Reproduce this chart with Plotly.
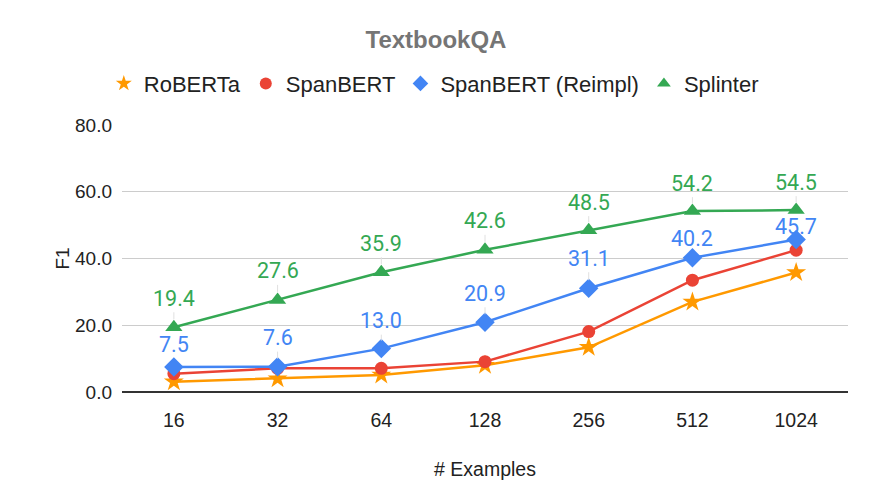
import plotly.graph_objects as go

examples = ["16", "32", "64", "128", "256", "512", "1024"]
roberta = [3.1, 4.0, 5.1, 8.0, 13.4, 27.0, 35.8]
spanbert = [5.5, 7.1, 7.1, 9.1, 18.1, 33.5, 42.5]
spanbert_reimpl = [7.5, 7.6, 13.0, 20.9, 31.1, 40.2, 45.7]
splinter = [19.4, 27.6, 35.9, 42.6, 48.5, 54.2, 54.5]

series = [
    ("RoBERTa", roberta, "#FF9900", "star", 15, False),
    ("SpanBERT", spanbert, "#EA4335", "circle", 13, False),
    ("SpanBERT (Reimpl)", spanbert_reimpl, "#4285F4", "diamond", 15, True),
    ("Splinter", splinter, "#34A853", "triangle-up", 15, True),
]

label_offsets = {
    "SpanBERT (Reimpl)": [-22, -29, -28, -29, -30, -19, -13],
    "Splinter": [-29, -29, -29, -29, -28, -28, -28],
}

fig = go.Figure()
annotations = []
for name, vals, color, sym, size, labeled in series:
    fig.add_trace(go.Scatter(
        x=examples, y=vals, mode="lines+markers", name=name,
        line=dict(color=color, width=2.5),
        marker=dict(symbol=sym, size=size, color=color),
        showlegend=False, hoverinfo="skip",
    ))
    fig.add_trace(go.Scatter(
        x=[None], y=[None], mode="markers", name=name,
        marker=dict(symbol=sym, size=12, color=color),
        showlegend=True,
    ))
    if labeled:
        for i, yv in enumerate(vals):
            annotations.append(dict(
                x=i, y=yv, xref="x", yref="y",
                text=f"{yv:.1f}", showarrow=True, arrowhead=0,
                arrowwidth=1, arrowcolor="#e0e0e0", ax=0,
                ay=label_offsets[name][i], standoff=8,
                font=dict(family="Roboto", size=21.5, color=color),
            ))

fig.update_layout(
    width=872, height=503,
    margin=dict(l=122, r=24, t=125, b=111, autoexpand=False),
    paper_bgcolor="white", plot_bgcolor="white",
    title=dict(text="<b>TextbookQA</b>", x=0.5, xanchor="center",
               y=1 - 40 / 503, yanchor="middle",
               font=dict(family="Liberation Sans", size=24, color="#757575")),
    legend=dict(orientation="h", x=0.4295, xanchor="center", y=1.155,
                yanchor="middle", font=dict(family="Liberation Sans", size=22, color="#222222"),
                itemwidth=30, tracegroupgap=0),
    annotations=annotations,
    font=dict(family="Liberation Sans", color="#222222"),
)
fig.update_xaxes(
    type="category", range=[-0.5, 6.5], showgrid=False, automargin=False,
    showline=False, ticks="", tickfont=dict(size=19.5, color="#222222"),
    ticklabelstandoff=14,
    title=dict(text="# Examples", font=dict(size=19.5, color="#222222"), standoff=32),
)
fig.update_yaxes(
    range=[0, 80], tickvals=[0, 20, 40, 60, 80], tickformat=".1f", automargin=False,
    gridcolor="#cccccc", gridwidth=1, zeroline=True, zerolinecolor="#333333",
    zerolinewidth=1.5, tickfont=dict(size=19, color="#222222"), ticks="",
    ticklabelstandoff=9,
    title=dict(text="F1", font=dict(size=19, color="#222222"), standoff=0),
)
fig.write_html("out.html", config={"displayModeBar": False},
               post_script="document.body.style.margin='0';")
